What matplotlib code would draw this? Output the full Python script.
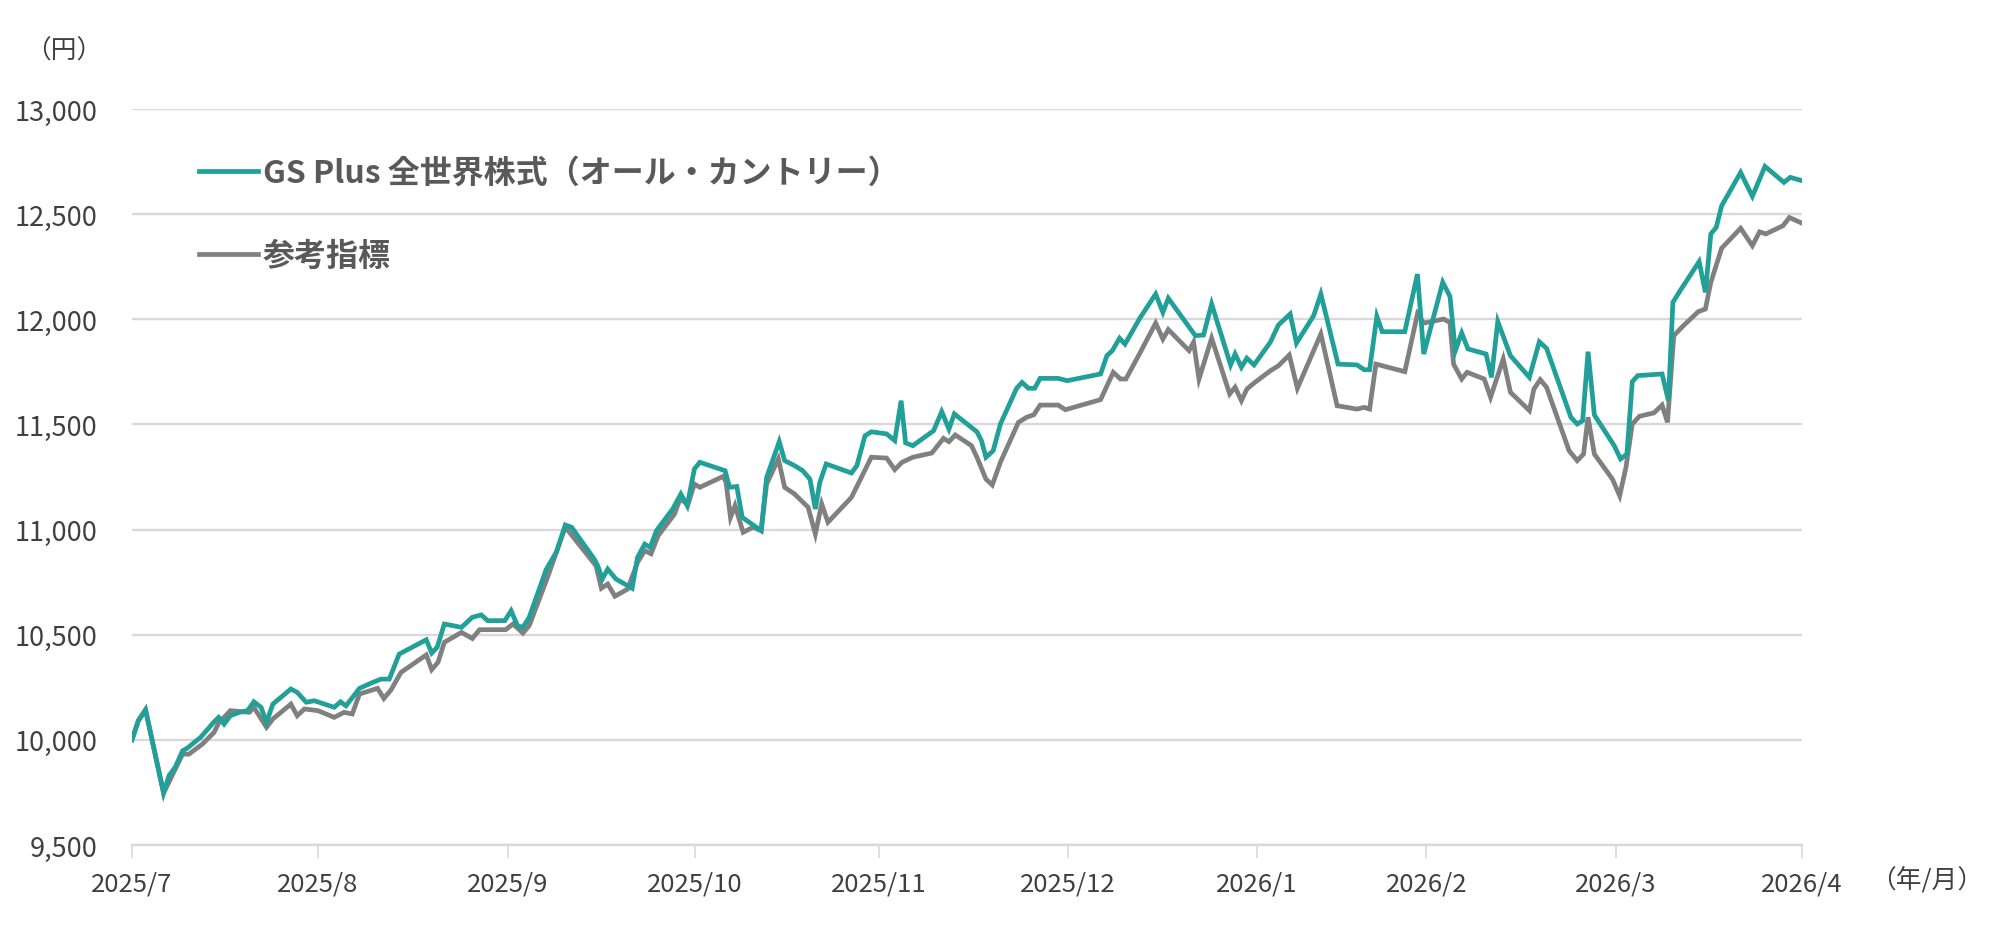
import matplotlib
matplotlib.use("Agg")
import matplotlib.pyplot as plt
from matplotlib.lines import Line2D
from matplotlib.ticker import FuncFormatter

plt.rcParams['font.family'] = ['Noto Sans CJK JP', 'DejaVu Sans']

# 営業日インデックス（2025/7 = 0, 2026/4 = 185）と基準価額（円）
fund_x = [0, 0.7, 1.5, 3.5, 4.1, 4.8, 5.6, 6.1, 7.6, 9.1, 9.6, 10.2, 10.9, 11.9, 12.8, 13.5, 14.3, 14.9,
          15.6, 17.6, 18.3, 19.3, 20.2, 22.4, 23.1, 23.7, 25.2, 26.7, 27.6, 28.5, 29.6, 32.6, 33.2, 33.8,
          34.6, 36.5, 37.7, 38.7, 39.4, 41.3, 42.0, 42.7, 43.3, 44.0, 45.9, 47.0, 48.0, 48.7, 51.2, 51.6,
          52.1, 52.7, 53.6, 55.4, 56.0, 56.8, 57.4, 58.1, 59.9, 60.8, 61.5, 62.3, 62.9, 65.7, 66.2, 67.0,
          67.6, 69.7, 70.3, 71.7, 72.3, 73.4, 74.3, 75.1, 75.7, 76.2, 76.9, 79.7, 80.3, 81.2, 81.9, 83.6,
          84.5, 85.2, 85.7, 86.5, 88.8, 89.7, 90.5, 91.1, 93.6, 94.1, 94.6, 95.4, 96.2, 98.0, 98.6, 99.3,
          100.0, 100.6, 102.6, 103.6, 107.3, 108.0, 108.6, 109.4, 110.0, 111.7, 113.4, 114.2, 114.8, 117.8,
          118.7, 119.6, 121.7, 122.2, 122.9, 123.5, 124.3, 126.1, 127.0, 128.3, 129.0, 130.9, 131.7, 133.6,
          135.7, 136.5, 137.1, 137.9, 138.5, 141.0, 142.4, 143.1, 145.2, 146.0, 146.6, 147.3, 148.0, 150.0,
          150.6, 151.3, 152.7, 154.8, 155.9, 156.7, 159.4, 160.1, 160.7, 161.3, 162.0, 164.2, 164.9, 165.6,
          166.2, 166.8, 169.5, 170.2, 170.7, 171.5, 173.6, 174.3, 174.9, 175.5, 176.1, 178.2, 179.5, 180.9,
          183.0, 183.7, 185.0]
fund_y = [10000, 10091, 10143, 9747, 9830, 9871, 9948, 9960, 10012, 10086, 10107, 10075, 10115, 10131, 10139,
          10181, 10155, 10083, 10170, 10242, 10226, 10179, 10186, 10155, 10181, 10162, 10245, 10274, 10289,
          10289, 10408, 10476, 10413, 10440, 10551, 10535, 10583, 10594, 10567, 10567, 10614, 10543, 10535,
          10583, 10812, 10892, 11022, 11011, 10860, 10828, 10765, 10812, 10765, 10721, 10868, 10931, 10915,
          10995, 11098, 11169, 11114, 11288, 11320, 11280, 11201, 11205, 11058, 10995, 11248, 11418, 11328,
          11304, 11280, 11240, 11098, 11225, 11312, 11269, 11304, 11446, 11465, 11455, 11423, 11613, 11412,
          11399, 11470, 11561, 11478, 11550, 11465, 11423, 11344, 11375, 11502, 11672, 11700, 11672, 11672,
          11719, 11719, 11708, 11740, 11827, 11851, 11910, 11882, 12009, 12120, 12033, 12100, 11922, 11925,
          12073, 11783, 11835, 11772, 11815, 11783, 11891, 11973, 12025, 11887, 12017, 12120, 11787, 11783,
          11760, 11760, 12014, 11941, 11941, 12215, 11835, 12176, 12109, 11851, 11935, 11859, 11835, 11724,
          11989, 11827, 11724, 11893, 11862, 11534, 11502, 11518, 11846, 11545, 11399, 11336, 11359, 11703,
          11732, 11740, 11613, 12081, 12136, 12274, 12128, 12406, 12437, 12540, 12698, 12585, 12727, 12651,
          12675, 12659]

bench_x = [0, 0.7, 1.5, 3.5, 5.6, 6.3, 7.8, 9.1, 9.6, 10.9, 13.0, 13.5, 14.9, 15.6, 17.6, 18.3, 19.1, 20.6,
           22.4, 23.5, 24.4, 25.2, 27.2, 27.9, 28.7, 29.8, 32.6, 33.2, 33.9, 34.6, 36.5, 37.7, 38.5, 41.4,
           42.2, 43.3, 44.0, 46.1, 48.0, 51.4, 52.0, 52.7, 53.5, 54.9, 56.0, 56.8, 57.5, 58.3, 60.1, 60.7,
           61.6, 62.3, 62.9, 65.5, 65.8, 66.3, 66.8, 67.7, 68.8, 69.7, 70.3, 71.6, 72.3, 73.4, 74.9, 75.7,
           76.4, 77.1, 79.7, 81.9, 83.6, 84.5, 85.3, 86.5, 88.6, 89.9, 90.5, 91.2, 93.0, 93.6, 94.6, 95.3,
           96.2, 98.2, 99.1, 99.9, 100.6, 102.6, 103.4, 107.3, 108.7, 109.5, 110.1, 111.7, 113.4, 114.2,
           114.8, 117.1, 117.6, 118.2, 119.6, 121.6, 122.2, 122.9, 123.5, 124.3, 126.1, 127.0, 128.2, 129.1,
           131.7, 133.5, 135.7, 136.5, 137.1, 137.8, 141.0, 142.4, 143.1, 145.3, 146.0, 146.4, 147.3, 147.9,
           149.8, 150.5, 151.9, 152.7, 154.8, 155.3, 156.0, 156.7, 159.2, 160.1, 160.8, 161.3, 162.0, 164.0,
           164.8, 165.5, 166.2, 167.0, 168.6, 169.5, 170.1, 170.8, 171.8, 173.5, 174.3, 174.9, 176.1, 178.2,
           179.5, 180.3, 181.0, 182.9, 183.6, 185.0]
bench_y = [10000, 10091, 10143, 9747, 9932, 9932, 9980, 10036, 10080, 10139, 10131, 10155, 10060, 10099, 10170,
           10115, 10147, 10139, 10107, 10131, 10123, 10218, 10245, 10197, 10238, 10321, 10404, 10334, 10369,
           10464, 10511, 10482, 10524, 10524, 10551, 10508, 10543, 10781, 11012, 10828, 10721, 10741, 10683,
           10717, 10844, 10900, 10885, 10972, 11074, 11145, 11121, 11217, 11201, 11253, 11225, 11058, 11114,
           10987, 11011, 10995, 11217, 11336, 11201, 11169, 11106, 10979, 11122, 11035, 11153, 11344, 11340,
           11285, 11320, 11344, 11364, 11434, 11418, 11450, 11399, 11344, 11240, 11212, 11320, 11510, 11534,
           11546, 11592, 11592, 11570, 11618, 11748, 11716, 11716, 11843, 11982, 11906, 11951, 11851, 11891,
           11716, 11910, 11645, 11677, 11613, 11668, 11697, 11755, 11779, 11830, 11672, 11930, 11589, 11573,
           11581, 11573, 11787, 11751, 12025, 11982, 12001, 11985, 11787, 11716, 11748, 11716, 11629, 11811,
           11653, 11566, 11668, 11713, 11677, 11375, 11328, 11359, 11534, 11359, 11240, 11161, 11296, 11502,
           11539, 11555, 11592, 11510, 11922, 11967, 12036, 12049, 12176, 12338, 12433, 12350, 12416, 12406,
           12445, 12484, 12457]

month_pos = [0, 20.6, 41.6, 62.4, 82.7, 103.7, 124.6, 143.4, 164.4, 185]
month_labels = ['2025/7', '2025/8', '2025/9', '2025/10', '2025/11', '2025/12',
                '2026/1', '2026/2', '2026/3', '2026/4']
y_ticks = [9500, 10000, 10500, 11000, 11500, 12000, 12500, 13000]

TEAL = '#21a099'
GRAY = '#808080'
GRID = '#d9d9d9'
TEXT = '#404040'

fig = plt.figure(figsize=(20, 9.37), dpi=100)
ax = fig.add_axes([0.066, 0.0971, 0.835, 0.7855])

ax.plot(bench_x, bench_y, color=GRAY, lw=3.4, solid_joinstyle='miter', zorder=3)
ax.plot(fund_x, fund_y, color=TEAL, lw=3.4, solid_joinstyle='miter', zorder=4)

ax.set_xlim(0, 185)
ax.set_ylim(9500, 13000)
ax.set_yticks(y_ticks)
ax.yaxis.set_major_formatter(FuncFormatter(lambda v, p: f'{int(v):,}'))
ax.set_xticks(month_pos)
ax.set_xticklabels(month_labels)

ax.grid(axis='y', color=GRID, lw=1.7)
ax.set_axisbelow(True)
for s in ['top', 'right', 'left']:
    ax.spines[s].set_visible(False)
ax.spines['bottom'].set_color(GRID)
ax.spines['bottom'].set_linewidth(1.7)
ax.spines['bottom'].set_zorder(1)

ax.tick_params(axis='y', length=0, pad=25, labelsize=19.5, labelcolor=TEXT)
ax.tick_params(axis='x', length=9, width=1.2, color=GRID, pad=9, labelsize=18.5, labelcolor=TEXT)

fig.text(0.0125, 0.945, '（円）', fontsize=18.5, color=TEXT, ha='left', va='center')
fig.text(0.935, 0.061, '（年/月）', fontsize=18.5, color=TEXT, ha='left', va='center')

handles = [Line2D([], [], color=TEAL, lw=3.4),
           Line2D([], [], color=GRAY, lw=3.4)]
leg = fig.legend(handles, ['GS Plus 全世界株式（オール・カントリー）', '参考指標'],
                 loc='upper left', bbox_to_anchor=(0.085, 0.862), frameon=False,
                 handlelength=1.85, handletextpad=0.15, labelspacing=1.6,
                 prop={'family': ['Noto Sans CJK JP', 'DejaVu Sans'], 'weight': 'bold', 'size': 23})
for t in leg.get_texts():
    t.set_color('#595959')

fig.savefig('out.png', dpi=100)
